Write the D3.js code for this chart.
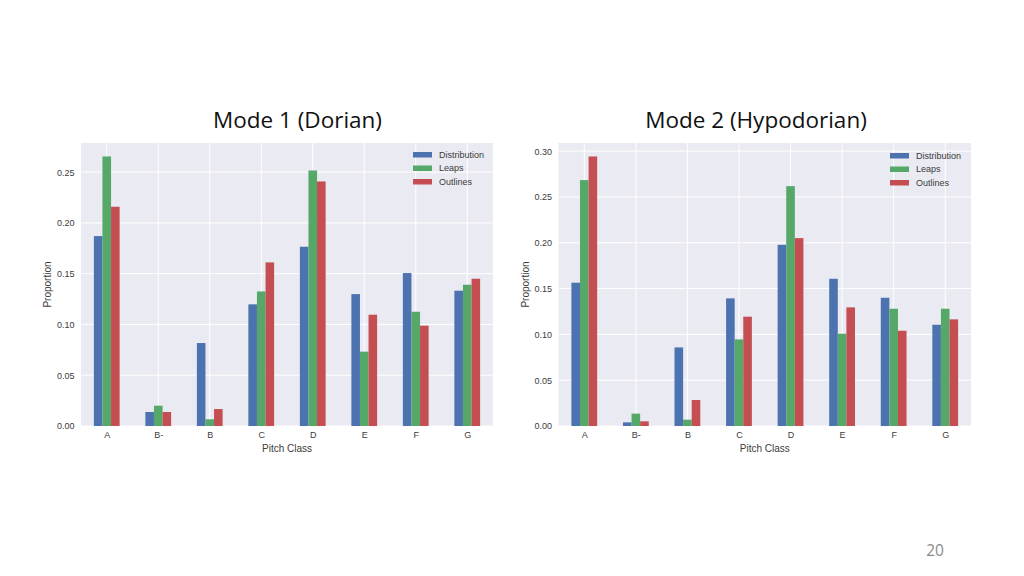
<!DOCTYPE html>
<html><head><meta charset="utf-8">
<script src="https://cdn.jsdelivr.net/npm/d3@7"></script>
<style>body{margin:0;background:#fff;}svg{display:block;}</style>
</head><body>
<script>
const categories = ["A","B-","B","C","D","E","F","G"];
const seriesNames = ["Distribution","Leaps","Outlines"];
const colors = ["#4C72B0","#55A868","#C44E52"];
const mode1Distribution = [0.187,0.0138,0.0817,0.1198,0.1765,0.1299,0.1506,0.1332];
const mode1Leaps        = [0.2654,0.0200,0.0066,0.1325,0.2516,0.0732,0.1125,0.1391];
const mode1Outlines     = [0.2159,0.0138,0.0167,0.1611,0.2408,0.1096,0.0988,0.1450];
const mode2Distribution = [0.1564,0.0040,0.0858,0.1393,0.1978,0.1607,0.1400,0.1105];
const mode2Leaps        = [0.2684,0.0135,0.0069,0.0945,0.2618,0.1007,0.1280,0.1280];
const mode2Outlines     = [0.2942,0.0051,0.0284,0.1193,0.2051,0.1295,0.1040,0.1164];
const mode1Ticks = [0,0.05,0.10,0.15,0.20,0.25];
const mode2Ticks = [0,0.05,0.10,0.15,0.20,0.25,0.30];
const titles = ["Mode 1 (Dorian)","Mode 2 (Hypodorian)"];
const xLabel = "Pitch Class", yLabel = "Proportion";

const W=1024,H=576;
const svg=d3.select("body").append("svg").attr("width",W).attr("height",H);
const font="'Liberation Sans', Arial, sans-serif";
const titleFont="'Open Sans', Lato, sans-serif";
const txt="#3b3b3b";

function panel(box, series, ticks, title, titleX, legend){
  const g=svg.append("g");
  const maxV=d3.max(series.flat());
  const y=d3.scaleLinear().domain([0,maxV*1.05]).range([box.b,box.t]);
  const xc=d3.scaleLinear().domain([-0.5,categories.length-0.5]).range([box.l,box.r]);
  g.append("rect").attr("x",box.l).attr("y",box.t).attr("width",box.r-box.l).attr("height",box.b-box.t).attr("fill","#EAEAF2");
  g.selectAll("line.hg").data(ticks).join("line").attr("x1",box.l).attr("x2",box.r)
    .attr("y1",d=>y(d)).attr("y2",d=>y(d)).attr("stroke","#fff").attr("stroke-width",1);
  g.selectAll("line.vg").data(categories).join("line").attr("y1",box.t).attr("y2",box.b)
    .attr("x1",(d,i)=>xc(i)).attr("x2",(d,i)=>xc(i)).attr("stroke","#fff").attr("stroke-width",1);
  const bw=(xc(1)-xc(0))*0.5/3;
  series.forEach((vals,s)=>{
    g.selectAll("rect.s"+s).data(vals).join("rect")
      .attr("x",(d,i)=>xc(i)-1.5*bw+s*bw).attr("width",bw)
      .attr("y",d=>y(d)).attr("height",d=>y(0)-y(d)).attr("fill",colors[s]);
  });
  const ya=d3.axisLeft(y).tickValues(ticks).tickFormat(d3.format(".2f")).tickSize(0).tickPadding(6.5);
  const yg=g.append("g").attr("transform",`translate(${box.l},0)`).call(ya);
  yg.select(".domain").remove();
  yg.selectAll("text").attr("font-family",font).attr("font-size",9).attr("fill",txt);
  const xa=d3.axisBottom(xc).tickValues(d3.range(categories.length)).tickFormat(i=>categories[i]).tickSize(0).tickPadding(6);
  const xg=g.append("g").attr("transform",`translate(0,${box.b})`).call(xa);
  xg.select(".domain").remove();
  xg.selectAll("text").attr("font-family",font).attr("font-size",9).attr("fill",txt);
  g.append("text").attr("x",(box.l+box.r)/2).attr("y",box.b+26).attr("text-anchor","middle")
    .attr("font-family",font).attr("font-size",10).attr("fill",txt).text(xLabel);
  g.append("text").attr("transform",`translate(${box.l-30},${(box.t+box.b)/2}) rotate(-90)`).attr("text-anchor","middle")
    .attr("font-family",font).attr("font-size",10).attr("fill",txt).text(yLabel);
  svg.append("text").attr("x",titleX).attr("y",128).attr("text-anchor","middle")
    .attr("font-family",titleFont).attr("font-size",22.5).attr("fill","#111").text(title);
  seriesNames.forEach((n,i)=>{
    g.append("rect").attr("x",legend.x).attr("y",legend.y+i*13.5-2.5).attr("width",19).attr("height",5.5).attr("fill",colors[i]);
    g.append("text").attr("x",legend.x+26).attr("y",legend.y+i*13.5+3.2).attr("font-family",font).attr("font-size",9).attr("fill",txt).text(n);
  });
}

panel({l:81,r:493,t:143,b:426},[mode1Distribution,mode1Leaps,mode1Outlines],mode1Ticks,titles[0],297.5,{x:413,y:154.5});
panel({l:558.5,r:971,t:143,b:426},[mode2Distribution,mode2Leaps,mode2Outlines],mode2Ticks,titles[1],756,{x:890,y:155.5});

svg.append("text").attr("x",935).attr("y",556).attr("text-anchor","middle")
  .attr("font-family",titleFont).attr("font-size",15.5).attr("fill","#8a8a8a").text("20");
</script>
</body></html>
